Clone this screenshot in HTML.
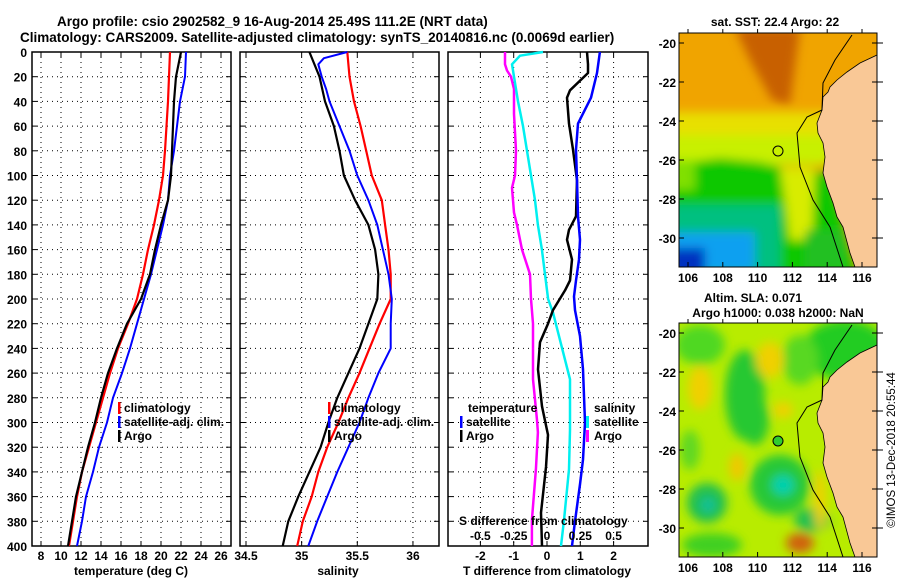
<!DOCTYPE html>
<html><head><meta charset="utf-8"><style>
html,body{margin:0;padding:0;background:#fff;}
svg{display:block;font-family:"Liberation Sans",Arial,sans-serif;font-weight:bold;}
</style></head><body>
<svg id="c" width="900" height="580" viewBox="0 0 900 580" xmlns="http://www.w3.org/2000/svg">
<defs>
<filter id="bl" x="-10%" y="-10%" width="120%" height="120%"><feGaussianBlur stdDeviation="5"/></filter>
<clipPath id="m1c"><rect x="679" y="33" width="198" height="234"/></clipPath>
<clipPath id="m2c"><rect x="679" y="323" width="198" height="234"/></clipPath>
</defs>
<text x="57" y="26" font-size="13.5">Argo profile: csio 2902582_9 16-Aug-2014 25.49S 111.2E (NRT data)</text>
<text x="20" y="42" font-size="13.5">Climatology: CARS2009. Satellite-adjusted climatology: synTS_20140816.nc (0.0069d earlier)</text>

<g>
<text x="775" y="26" font-size="12" text-anchor="middle">sat. SST: 22.4 Argo: 22</text>
<g clip-path="url(#m1c)">
<rect x="679" y="33" width="198" height="234" fill="#f0a400"/>
<g filter="url(#bl)">
<polygon points="735,28 800,28 790,105 772,100 750,60" fill="#c86000"/>
<rect x="670" y="112" width="165" height="45" fill="#e8e000"/>
<rect x="670" y="135" width="160" height="30" fill="#c8f000"/>
<polygon points="670,165 720,158 760,162 800,172 830,172 860,290 670,290" fill="#10c800"/>
<polygon points="780,168 815,168 812,240 790,240 785,200" fill="#d8ec00"/>
<rect x="670" y="160" width="25" height="30" fill="#80e000"/>
<rect x="670" y="205" width="110" height="75" fill="#00c080"/>
<rect x="670" y="232" width="85" height="40" fill="#10a0f0"/>
<rect x="670" y="248" width="35" height="30" fill="#0030c0"/>
<rect x="805" y="230" width="40" height="40" fill="#20c020"/>
</g>
<polygon points="877,55 860,63 847,72 837,80 830,87 828,92 823,97 822,110 817,123 818,133 823,143 825,157 823,173 827,187 833,203 837,217 843,227 850,253 855,267 877,267" fill="#f9c896" stroke="#000" stroke-width="0.8"/>
<polyline points="852,35 835,60 823,83 822,110 807,117 797,133 800,167 813,200 830,227 843,267" fill="none" stroke="#000" stroke-width="1"/>
<circle cx="778" cy="151" r="5" fill="none" stroke="#000" stroke-width="1"/>
</g>
<rect x="679" y="33" width="198" height="234" fill="none" stroke="#000"/>
</g>

<g>
<text x="753" y="302" font-size="12" text-anchor="middle">Altim. SLA: 0.071</text>
<text x="778" y="317" font-size="12" text-anchor="middle">Argo h1000: 0.038 h2000: NaN</text>
<g clip-path="url(#m2c)">
<rect x="679" y="323" width="198" height="234" fill="#b8ec00"/>
<g filter="url(#bl)">
<ellipse cx="700" cy="345" rx="25" ry="20" fill="#50d820"/>
<ellipse cx="745" cy="395" rx="20" ry="45" fill="#28c830"/>
<ellipse cx="755" cy="420" rx="14" ry="25" fill="#28c830"/>
<ellipse cx="845" cy="350" rx="42" ry="30" fill="#20cc20"/>
<ellipse cx="800" cy="360" rx="18" ry="25" fill="#58d820"/>
<ellipse cx="780" cy="485" rx="30" ry="30" fill="#28c838"/>
<ellipse cx="783" cy="485" rx="11" ry="10" fill="#00d0b0"/>
<ellipse cx="707" cy="503" rx="20" ry="20" fill="#20c050"/>
<ellipse cx="708" cy="505" rx="7" ry="7" fill="#10c0a0"/>
<ellipse cx="812" cy="520" rx="18" ry="12" fill="#20c050"/>
<ellipse cx="712" cy="545" rx="30" ry="12" fill="#40d020"/>
<ellipse cx="690" cy="450" rx="10" ry="20" fill="#60d820"/>
<ellipse cx="700" cy="388" rx="12" ry="22" fill="#f0d000"/>
<ellipse cx="770" cy="360" rx="14" ry="18" fill="#f0d000"/>
<ellipse cx="737" cy="467" rx="8" ry="14" fill="#f0c800"/>
<ellipse cx="783" cy="410" rx="10" ry="8" fill="#f0d000"/>
<ellipse cx="800" cy="543" rx="14" ry="10" fill="#d06010"/>
<ellipse cx="820" cy="500" rx="6" ry="30" fill="#f0d000"/>
</g>
<polygon points="877,345 860,353 847,362 837,370 830,377 828,382 823,387 822,400 817,413 818,423 823,433 825,447 823,463 827,477 833,493 837,507 843,517 850,543 855,557 877,557" fill="#f9c896" stroke="#000" stroke-width="0.8"/>
<polyline points="852,325 835,350 823,373 822,400 807,407 797,423 800,457 813,490 830,517 843,557" fill="none" stroke="#000" stroke-width="1"/>
<circle cx="778" cy="441" r="5" fill="#30cc30" stroke="#000" stroke-width="1"/>
</g>
<rect x="679" y="323" width="198" height="234" fill="none" stroke="#000"/>
</g>
<text transform="translate(895,450) rotate(-90)" font-size="11.5" font-weight="normal" text-anchor="middle">©IMOS 13-Dec-2018 20:55:44</text>
<g id="plots"></g>
</svg>
<script>
// ---- Panel 1: temperature ----
const depthStd = [0,20,40,60,80,100,120,140,160,180,200,220,240,260,280,300,320,340,360,380,400];
const tempClim = [20.9,20.8,20.7,20.55,20.4,20.2,19.8,19.3,18.7,18.2,17.6,16.7,15.7,14.9,14.2,13.5,12.8,12.1,11.6,11.2,10.8];
const tempSat = [22.5,22.4,21.9,21.6,21.3,20.9,20.7,20.2,19.6,19.0,18.3,17.6,16.9,16.1,15.2,14.6,13.8,13.2,12.5,12.1,11.6];
const tempArgo = [22.0,21.5,21.3,21.2,21.1,21.0,20.7,20.0,19.4,18.9,18.0,16.6,15.6,14.7,14.0,13.4,12.7,12.1,11.5,11.1,10.7];
const tempTicks = [8,10,12,14,16,18,20,22,24,26];
// ---- Panel 2: salinity ----
const salClim = [35.41,35.43,35.47,35.53,35.58,35.63,35.72,35.75,35.78,35.80,35.80,35.70,35.61,35.52,35.42,35.33,35.23,35.15,35.09,35.01,34.96];
const salSatDepth = [0,5,10,20,30,40,60,80,100,120,140,160,180,200,220,240,260,280,300,320,340,360,380,400];
const salSat = [35.41,35.20,35.15,35.18,35.22,35.25,35.34,35.43,35.50,35.60,35.68,35.73,35.78,35.81,35.80,35.80,35.69,35.60,35.52,35.42,35.32,35.23,35.14,35.06];
const salArgo = [35.07,35.16,35.21,35.29,35.34,35.38,35.48,35.60,35.66,35.69,35.68,35.60,35.52,35.42,35.32,35.24,35.17,35.07,34.97,34.88,34.83];
const salTicks = ["34.5","35","35.5","36"];
// ---- Panel 3: differences ----
const dTArgoDepth = [0,10,17,31,37,58,79,104,133,144,152,168,185,193,209,220,235,257,287,310,336,373,400];
const dTArgo = [1.20,1.23,1.23,0.69,0.60,0.66,0.78,0.90,0.87,0.66,0.60,0.75,0.69,0.54,0.18,0.03,-0.21,-0.27,-0.15,0.03,-0.03,-0.18,-0.15];
const dTSatDepth = [0,17,37,58,79,104,133,152,168,185,198,209,230,257,300,330,350,380,400];
const dTSat = [1.59,1.50,1.32,0.93,0.87,0.90,0.93,0.99,0.96,0.87,0.81,0.84,0.99,1.08,1.14,1.08,0.99,0.84,0.75];
const dSArgoDepth = [0,10,15,20,30,50,80,100,110,130,140,160,180,200,220,265,298,308,338,379,400];
const dSArgo = [-0.315,-0.315,-0.30,-0.27,-0.248,-0.248,-0.233,-0.24,-0.263,-0.248,-0.225,-0.188,-0.128,-0.12,-0.105,-0.105,-0.075,-0.068,-0.083,-0.113,-0.113];
const dSSatDepth = [0,3,10,20,40,60,80,100,120,140,160,180,200,211,265,306,338,379,400];
const dSSat = [-0.03,-0.203,-0.263,-0.248,-0.218,-0.18,-0.15,-0.12,-0.09,-0.068,-0.038,-0.015,0.008,0.045,0.173,0.173,0.165,0.128,0.105];
const dTTicks = [-2,-1,0,1,2];
const dSTicks = ["-0.5","-0.25","0","0.25","0.5"];
const depthTicks = [0,20,40,60,80,100,120,140,160,180,200,220,240,260,280,300,320,340,360,380,400];
const mapLatTicks = [-20,-22,-24,-26,-28,-30];
const mapLonTicks = [106,108,110,112,114,116];

const NS='http://www.w3.org/2000/svg';
const root=document.getElementById('plots');
const TOP=52, BOT=546;
const yD = d => TOP + d*(BOT-TOP)/400;
const xT = t => 41 + (t-8)*10;
const xS = s => 246 + (s-34.5)*111.3;
const xDT = t => 547 + t*33.3;
const xDS = s => 547 + s*4*33.3;
function el(tag, attrs, parent){const e=document.createElementNS(NS,tag);for(const k in attrs)e.setAttribute(k,attrs[k]);(parent||root).appendChild(e);return e;}
function txt(x,y,s,size,anchor,parent){const t=el('text',{x:x,y:y,'font-size':size,'text-anchor':anchor||'start'},parent);t.textContent=s;return t;}

function panel(name,x0,x1,xGrid){
  const g=el('g',{});
  
  
  depthTicks.forEach(d=>{ if(d>0&&d<400){ el('line',{x1:x0,x2:x1,y1:yD(d),y2:yD(d),stroke:'#000','stroke-width':1,'stroke-dasharray':'1,4'},g); el('line',{x1:x0,x2:x0+5,y1:yD(d),y2:yD(d),stroke:'#000'},g); el('line',{x1:x1-5,x2:x1,y1:yD(d),y2:yD(d),stroke:'#000'},g);} });
  xGrid.forEach(x=>{ el('line',{x1:x,x2:x,y1:TOP,y2:BOT,stroke:'#000','stroke-width':1,'stroke-dasharray':'1,4'},g); el('line',{x1:x,x2:x,y1:BOT-5,y2:BOT,stroke:'#000'},g); el('line',{x1:x,x2:x,y1:TOP,y2:TOP+5,stroke:'#000'},g);});
  const fr=el('rect',{x:x0,y:TOP,width:x1-x0,height:BOT-TOP,fill:'none',stroke:'#000','stroke-width':1.5},g);
  
  
  return g;
}
function line(g,xs,ds,fx,color,w,name){
  const pts=xs.map((v,i)=>fx(v).toFixed(1)+','+yD(ds[i]).toFixed(1)).join(' ');
  const p=el('polyline',{points:pts,fill:'none',stroke:color,'stroke-width':w,'stroke-linejoin':'round'},g);
  
  
}
function legItem(g,x,y,color,label,bw){
  el('rect',{x:x,y:y-10,width:bw||2.5,height:12,fill:color},g);
  if(label) txt(x+6,y,label,12,'start',g);
}

const ya=el('g',{});


depthTicks.forEach(d=>{ txt(27,yD(d)+5,String(d),12,'end',ya); });

const g1=panel('temperature-panel',32,231,tempTicks.map(xT));
line(g1,tempClim,depthStd,xT,'#ff0000',2.2,'temp-climatology-line');
line(g1,tempSat,depthStd,xT,'#0000ff',2,'temp-satellite-line');
line(g1,tempArgo,depthStd,xT,'#000',2.2,'temp-argo-line');
tempTicks.forEach(t=>txt(xT(t),560,String(t),12,'middle',g1));
txt(131,575,'temperature (deg C)',12,'middle',g1);
const l1=el('g',{},g1);


legItem(l1,118,412,'#ff0000','climatology');
legItem(l1,118,426,'#0000ff','satellite-adj. clim.');
legItem(l1,118,440,'#000','Argo');

const g2=panel('salinity-panel',240,439,salTicks.map(s=>xS(+s)));
line(g2,salClim,depthStd,xS,'#ff0000',2.2,'sal-climatology-line');
line(g2,salSat,salSatDepth,xS,'#0000ff',2,'sal-satellite-line');
line(g2,salArgo,depthStd,xS,'#000',2.2,'sal-argo-line');
salTicks.forEach(s=>txt(xS(+s),560,s,12,'middle',g2));
txt(338,575,'salinity',12,'middle',g2);
const l2=el('g',{},g2);


legItem(l2,328,412,'#ff0000','climatology');
legItem(l2,328,426,'#0000ff','satellite-adj. clim.');
legItem(l2,328,440,'#000','Argo');

const g3=panel('difference-panel',448,648,dTTicks.map(xDT));
line(g3,dSArgo,dSArgoDepth,xDS,'#ff00ff',2.5,'sal-diff-argo-line');
line(g3,dSSat,dSSatDepth,xDS,'#00f0f0',2.5,'sal-diff-satellite-line');
line(g3,dTArgo,dTArgoDepth,xDT,'#000',2.5,'temp-diff-argo-line');
line(g3,dTSat,dTSatDepth,xDT,'#0000ff',2.5,'temp-diff-satellite-line');
dTTicks.forEach(t=>txt(xDT(t),560,String(t),12,'middle',g3));
txt(547,575,'T difference from climatology',12,'middle',g3);
txt(459,525,'S difference from climatology',12,'start',g3);
dSTicks.forEach(s=>txt(xDS(+s),540,s,12,'middle',g3));
const l3=el('g',{},g3);


txt(468,412,'temperature',12,'start',l3);
legItem(l3,460,426,'#0000ff','satellite');
legItem(l3,460,440,'#000','Argo');
txt(594,412,'salinity',12,'start',l3);
legItem(l3,586,426,'#00f0f0','',3);
legItem(l3,586,440,'#ff00ff','',3);
txt(594,426,'satellite',12,'start',l3);
txt(594,440,'Argo',12,'start',l3);

function mapAxes(y0,latY20,name){
  const g=el('g',{});
  
  
  mapLatTicks.forEach(l=>{const y=latY20+(-20-l)*19.5; txt(676,y+5,String(l),12,'end',g); el('line',{x1:679,x2:684,y1:y,y2:y,stroke:'#000'},g); el('line',{x1:872,x2:883,y1:y,y2:y,stroke:'#000'},g);});
  mapLonTicks.forEach(l=>{const x=688+(l-106)*17.4; txt(x,y0+249,String(l),12,'middle',g); el('line',{x1:x,x2:x,y1:y0+234,y2:y0+229,stroke:'#000'},g); el('line',{x1:x,x2:x,y1:y0-4,y2:y0,stroke:'#000'},g);});
}
mapAxes(33,43,'sst-map-axes');
mapAxes(323,333,'sla-map-axes');
</script>
</body></html>
